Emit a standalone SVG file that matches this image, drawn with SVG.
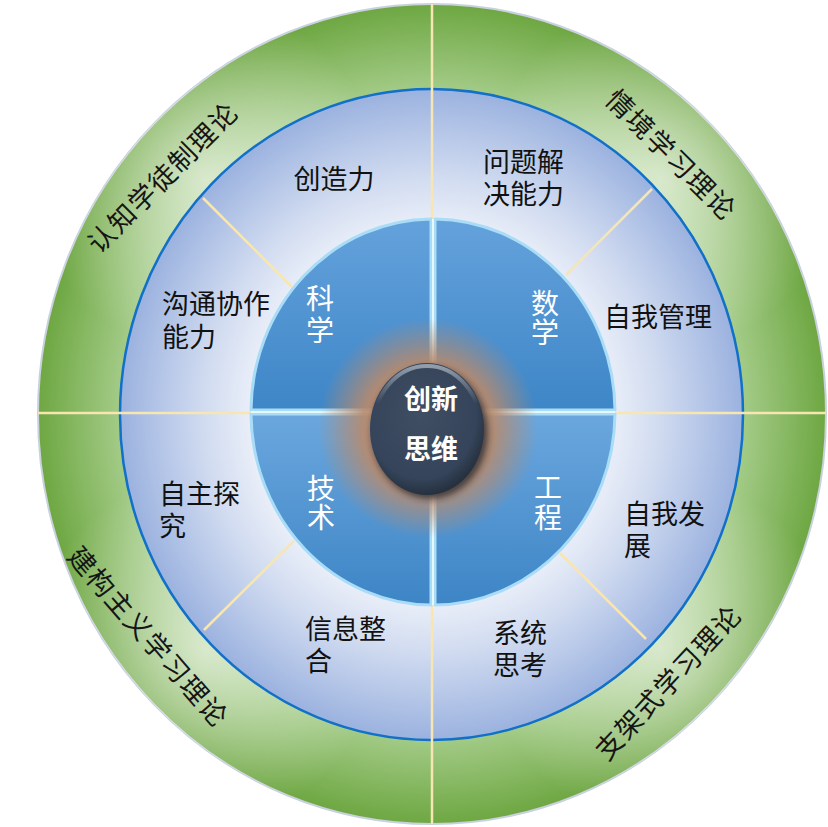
<svg xmlns="http://www.w3.org/2000/svg" width="828" height="827" viewBox="0 0 828 827">
<style>
.lbl{font-family:"Noto Sans CJK SC","Noto Sans",sans-serif;font-size:27px;fill:#111111}
.ring{font-family:"Noto Sans CJK SC","Noto Sans",sans-serif;font-size:27px;fill:#151515;letter-spacing:1.5px;text-anchor:middle}
.wl{font-family:"Noto Sans CJK SC","Noto Sans",sans-serif;font-size:28px;fill:#ffffff;text-anchor:middle}
.ctr{font-family:"Noto Sans CJK SC","Noto Sans",sans-serif;font-size:27px;font-weight:700;fill:#ffffff;text-anchor:middle}
.cream{stroke:#f7e6b2;stroke-width:2.5;fill:none}
.quad{stroke:#a9dcf6;stroke-width:3;stroke-linejoin:round}
</style>
<defs>
<radialGradient id="gGreen" cx="0.5" cy="0.5" r="0.5">
<stop offset="0.78" stop-color="#a6cd8b"/>
<stop offset="1" stop-color="#6ea742"/>
</radialGradient>
<radialGradient id="gHi" cx="0.5" cy="0.5" r="0.5">
<stop offset="0" stop-color="#ffffff" stop-opacity="0.6"/>
<stop offset="1" stop-color="#ffffff" stop-opacity="0"/>
</radialGradient>
<radialGradient id="gBlueRing" cx="0.5" cy="0.5" r="0.5">
<stop offset="0.5" stop-color="#f6f8fc"/>
<stop offset="0.72" stop-color="#d3ddf1"/>
<stop offset="1" stop-color="#9bb2df"/>
</radialGradient>
<linearGradient id="gQuadT" x1="0" y1="0" x2="0" y2="1">
<stop offset="0" stop-color="#64a2dc"/>
<stop offset="1" stop-color="#3e86c7"/>
</linearGradient>
<linearGradient id="gQuadB" x1="0" y1="0" x2="0" y2="1">
<stop offset="0" stop-color="#6ba7de"/>
<stop offset="1" stop-color="#3d85c6"/>
</linearGradient>
<radialGradient id="gGlow" cx="0.5" cy="0.5" r="0.5">
<stop offset="0" stop-color="#c4845a" stop-opacity="1"/>
<stop offset="0.6" stop-color="#b88a6c" stop-opacity="0.9"/>
<stop offset="1" stop-color="#b88a6c" stop-opacity="0"/>
</radialGradient>
<radialGradient id="gDark" cx="0.45" cy="0.4" r="0.6">
<stop offset="0" stop-color="#3f4e62"/>
<stop offset="0.8" stop-color="#35445a"/>
<stop offset="1" stop-color="#26313f"/>
</radialGradient>
<linearGradient id="gRim" x1="0" y1="0" x2="0" y2="1">
<stop offset="0" stop-color="#aab4c0" stop-opacity="0.8"/>
<stop offset="0.3" stop-color="#aab4c0" stop-opacity="0"/>
</linearGradient>
<clipPath id="cGreen"><ellipse cx="432" cy="414" rx="394" ry="410"/></clipPath>
<filter id="fBlur" x="-30%" y="-30%" width="160%" height="160%"><feGaussianBlur stdDeviation="3"/></filter>
</defs>

<g id="outer-ring">
<ellipse cx="432" cy="414" rx="394" ry="410" fill="url(#gGreen)" stroke="#c8d1dd" stroke-width="2"/>
<g clip-path="url(#cGreen)">
<circle cx="205" cy="178" r="175" fill="url(#gHi)"/>
<circle cx="662" cy="178" r="175" fill="url(#gHi)"/>
<circle cx="205" cy="650" r="175" fill="url(#gHi)"/>
<circle cx="662" cy="650" r="175" fill="url(#gHi)"/>
</g>
</g>

<g id="middle-ring">
<ellipse cx="431.5" cy="414.5" rx="311.5" ry="325.5" fill="url(#gBlueRing)" stroke="#1170c8" stroke-width="2.5"/>
</g>

<g id="connectors">
<line class="cream" x1="432" y1="4" x2="432" y2="824"/>
<line class="cream" x1="38" y1="413" x2="826" y2="413"/>
<line class="cream" x1="203" y1="198" x2="292" y2="287"/>
<line class="cream" x1="652" y1="189" x2="566" y2="275"/>
<line class="cream" x1="204" y1="630" x2="294" y2="541"/>
<line class="cream" x1="646" y1="639" x2="560" y2="553"/>
</g>

<g id="inner-disk">
<path id="q-science" class="quad" fill="url(#gQuadT)" d="M431,410 L251,410 A182 193 0 0 1 431,219 Z"/>
<path id="q-math" class="quad" fill="url(#gQuadT)" d="M435,410 L435,219 A182 193 0 0 1 615,410 Z"/>
<path id="q-eng" class="quad" fill="url(#gQuadB)" d="M435,414 L615,414 A182 193 0 0 1 435,605 Z"/>
<path id="q-tech" class="quad" fill="url(#gQuadB)" d="M431,414 L431,605 A182 193 0 0 1 251,414 Z"/>
<line x1="433" y1="219" x2="433" y2="605" stroke="#e6f8ff" stroke-width="2"/>
<line x1="251" y1="412" x2="615" y2="412" stroke="#e6f8ff" stroke-width="2"/>
</g>

<g id="center">
<circle cx="428" cy="428" r="110" fill="url(#gGlow)"/>
<ellipse cx="430" cy="433" rx="58" ry="66" fill="#1a222c" opacity="0.7" filter="url(#fBlur)"/>
<ellipse cx="427" cy="429" rx="57" ry="66" fill="url(#gDark)"/>
<ellipse cx="427" cy="429" rx="54" ry="63" fill="none" stroke="url(#gRim)" stroke-width="4"/>
<text class="ctr" x="431" y="408.7">创新<tspan x="431" dy="50.5">思维</tspan></text>
</g>

<g id="disk-labels">
<g id="n-science"><text class="wl" x="320" y="309">科<tspan x="320" dy="32">学</tspan></text></g>
<g id="n-math"><text class="wl" x="545" y="314">数<tspan x="545" dy="29">学</tspan></text></g>
<g id="n-tech"><text class="wl" x="321" y="499">技<tspan x="321" dy="29">术</tspan></text></g>
<g id="n-eng"><text class="wl" x="548" y="498">工<tspan x="548" dy="30">程</tspan></text></g>
</g>

<g id="ring-labels">
<g id="n-creativity"><text class="lbl" x="334" y="188.5" text-anchor="middle">创造力</text></g>
<g id="n-problem"><text class="lbl" x="483" y="171.7">问题解<tspan x="483" dy="32">决能力</tspan></text></g>
<g id="n-communication"><text class="lbl" x="162" y="313.7">沟通协作<tspan x="162" dy="33">能力</tspan></text></g>
<g id="n-selfmanage"><text class="lbl" x="604" y="326.7">自我管理</text></g>
<g id="n-inquiry"><text class="lbl" x="159" y="503.7">自主探<tspan x="159" dy="32">究</tspan></text></g>
<g id="n-development"><text class="lbl" x="624" y="523.7">自我发<tspan x="624" dy="32">展</tspan></text></g>
<g id="n-information"><text class="lbl" x="305" y="638.7">信息整<tspan x="305" dy="32">合</tspan></text></g>
<g id="n-systems"><text class="lbl" x="493" y="642.7">系统<tspan x="493" dy="32">思考</tspan></text></g>
</g>

<g id="theory-labels">
<g id="n-cognitive" transform="translate(163,177.5) rotate(-45)"><text class="ring" x="0" y="9.7">认知学徒制理论</text></g>
<g id="n-situated" transform="translate(671,155) rotate(45)"><text class="ring" x="0" y="9.7">情境学习理论</text></g>
<g id="n-constructivism" transform="translate(148,637) rotate(49)"><text class="ring" x="0" y="9.7">建构主义学习理论</text></g>
<g id="n-scaffolding" transform="translate(668.5,682.5) rotate(-47)"><text class="ring" x="0" y="9.7">支架式学习理论</text></g>
</g>
</svg>
